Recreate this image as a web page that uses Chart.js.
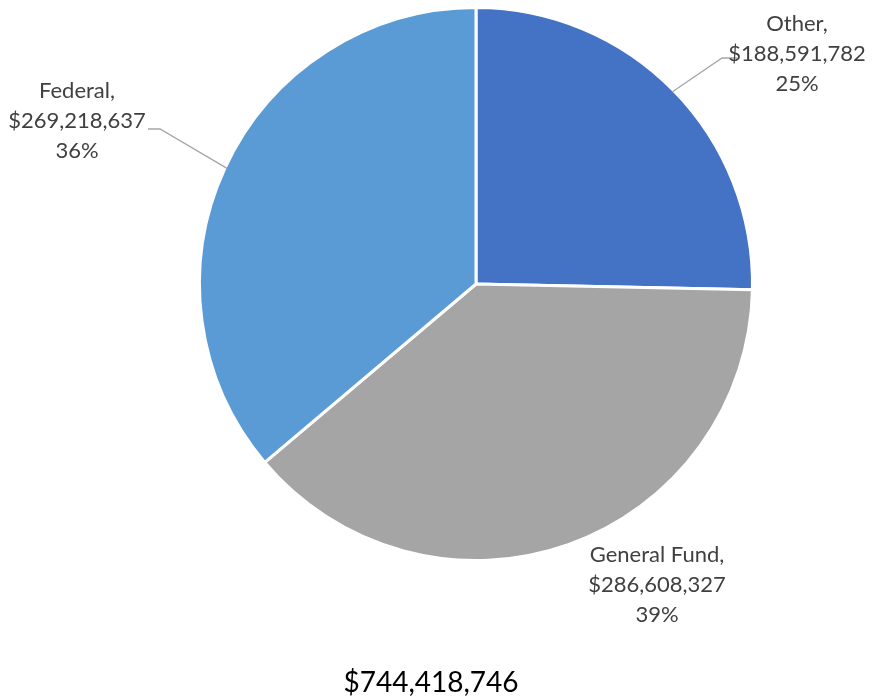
<!DOCTYPE html>
<html>
<head>
<meta charset="utf-8">
<script src="https://cdn.jsdelivr.net/npm/chart.js@4"></script>
<style>
  html, body { margin: 0; padding: 0; background: #fff; }
  #wrap { position: relative; width: 873px; height: 697px; }
</style>
</head>
<body>
<div id="wrap"><canvas id="fundChart" width="873" height="697"></canvas></div>
<script>
const categories = ['Other', 'General Fund', 'Federal'];
const amounts = [188591782, 286608327, 269218637];
const percentLabels = ['25%', '39%', '36%'];
const totalLabel = '$744,418,746';
const sliceColors = ['#4472C4', '#A5A5A5', '#5B9BD5'];

// where each label block sits, relative to the pie centre, and whether it gets a leader line
const labelSpots = [
  { dx: 321, dy: -230, line: true, elbowDx: 246, elbowDy: -226 },
  { dx: 181, dy: 301, line: false },
  { dx: -399, dy: -163, line: true, elbowDx: -316, elbowDy: -155 }
];

const money = v => '$' + v.toLocaleString('en-US');

const labelPlugin = {
  id: 'sliceLabels',
  afterDatasetsDraw(chart) {
    const c = chart.ctx;
    const arcs = chart.getDatasetMeta(0).data;
    c.save();
    arcs.forEach((arc, i) => {
      const spot = labelSpots[i];
      const cx = arc.x, cy = arc.y;
      const mid = (arc.startAngle + arc.endAngle) / 2;
      if (spot.line) {
        c.strokeStyle = '#A6A6A6';
        c.lineWidth = 1.3;
        c.beginPath();
        c.moveTo(cx + Math.cos(mid) * (arc.outerRadius - 2), cy + Math.sin(mid) * (arc.outerRadius - 2));
        c.lineTo(cx + spot.elbowDx, cy + spot.elbowDy);
        c.lineTo(cx + spot.elbowDx + (spot.dx > 0 ? 15 : -12), cy + spot.elbowDy);
        c.stroke();
      }
      c.fillStyle = '#404040';
      c.font = '22px Lato, "Open Sans", sans-serif';
      c.textAlign = 'center';
      c.textBaseline = 'middle';
      const lines = [categories[i] + ',', money(amounts[i]), percentLabels[i]];
      lines.forEach((t, k) => c.fillText(t, cx + spot.dx, cy + spot.dy + (k - 1) * 30));
    });
    c.fillStyle = '#000';
    c.font = '28px Lato, "Open Sans", sans-serif';
    c.textAlign = 'center';
    c.textBaseline = 'middle';
    c.fillText(totalLabel, 431, 683);
    c.restore();
  }
};

new Chart(document.getElementById('fundChart'), {
  type: 'pie',
  data: {
    labels: categories,
    datasets: [{
      data: amounts,
      backgroundColor: sliceColors,
      borderColor: '#ffffff',
      borderWidth: 3
    }]
  },
  options: {
    responsive: false,
    animation: false,
    layout: { padding: { left: 198, right: 119, top: 6, bottom: 135 } },
    plugins: {
      legend: { display: false },
      tooltip: { enabled: false }
    }
  },
  plugins: [labelPlugin]
});
</script>
</body>
</html>
